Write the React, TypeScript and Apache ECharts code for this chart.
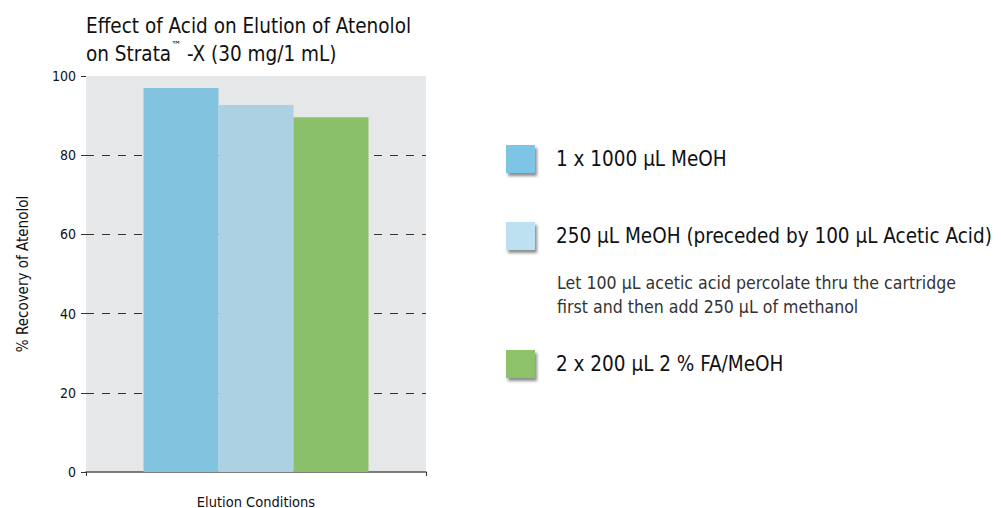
import React, { useEffect, useRef } from "react";
import * as echarts from "echarts";

const titleLine1 = "Effect of Acid on Elution of Atenolol";
const titleLine2 = ["on Strata", "™", " -X (30 mg/1 mL)"];
const categories = [""];
const seriesNames = [
  "1 x 1000 µL MeOH",
  "250 µL MeOH (preceded by 100 µL Acetic Acid)",
  "2 x 200 µL 2 % FA/MeOH",
];
const seriesValues = [97.0, 92.7, 89.6];
const barColors = ["#82C3DF", "#ACD1E2", "#8BC06A"];
const legendColors = ["#7EC4E4", "#BDE1F1", "#8DC26B"];
const legendTops = [145, 222, 350];
const noteLines = [
  "Let 100 µL acetic acid percolate thru the cartridge",
  "first and then add 250 µL of methanol",
];
const yTicks = { min: 0, max: 100, interval: 20 };
const yAxisName = "% Recovery of Atenolol";
const xAxisName = "Elution Conditions";

const FONT = "'DejaVu Sans Condensed', 'Liberation Sans', sans-serif";

export default function App() {
  const ref = useRef<HTMLDivElement>(null);
  useEffect(() => {
    document.body.style.margin = "0";
    const chart = echarts.init(ref.current!, null, { renderer: "svg" });
    const option: any = {
      animation: false,
      textStyle: { fontFamily: FONT },
      title: {
        left: 81,
        top: 7,
        text: `${titleLine1}\n{a|${titleLine2[0]}}{s|${titleLine2[1]}}{a|${titleLine2[2]}}`,
        textStyle: {
          fontFamily: FONT,
          fontSize: 20.5,
          fontWeight: "normal",
          color: "#111",
          lineHeight: 28,
          rich: {
            a: { fontFamily: FONT, fontSize: 20.5, color: "#111", lineHeight: 28 },
            s: { fontFamily: FONT, fontSize: 11, color: "#111", verticalAlign: "top", lineHeight: 28, padding: [0, 0, 12, 0] },
          },
        },
      },
      legend: seriesNames.map((n, i) => ({
        data: [{ name: n, itemStyle: { color: legendColors[i] } }],
        left: 506,
        top: legendTops[i],
        padding: 0,
        orient: "vertical",
        icon: "rect",
        itemWidth: 29,
        itemHeight: 28,
        selectedMode: false,
        itemStyle: {
          shadowBlur: 3,
          shadowColor: "rgba(0,0,0,0.45)",
          shadowOffsetX: 2,
          shadowOffsetY: 3,
        },
        textStyle: {
          fontFamily: FONT,
          fontSize: 20.5,
          color: "#111",
          padding: [3, 0, 0, 16],
        },
      })),
      graphic: noteLines.map((t, i) => ({
        type: "text",
        left: 557,
        top: 274 + i * 24,
        style: { text: t, fontFamily: FONT, fontSize: 17.6, fill: "#333" },
      })),
      grid: {
        left: 86,
        top: 76,
        width: 340,
        height: 396,
        show: true,
        backgroundColor: "#E6E7E9",
        borderWidth: 0,
        outerBoundsMode: "none",
        containLabel: false,
      },
      xAxis: {
        type: "category",
        data: categories,
        name: xAxisName,
        nameLocation: "middle",
        nameGap: 22,
        nameTextStyle: { fontFamily: FONT, fontSize: 14.5, color: "#111" },
        axisLine: { lineStyle: { color: "#555", width: 1.5 } },
        axisTick: { show: true, length: 4, lineStyle: { color: "#333" } },
        axisLabel: { show: false },
      },
      yAxis: {
        type: "value",
        min: yTicks.min,
        max: yTicks.max,
        interval: yTicks.interval,
        name: yAxisName,
        nameLocation: "middle",
        nameGap: 56,
        nameTextStyle: { fontFamily: FONT, fontSize: 15, color: "#111" },
        axisLine: { show: false },
        axisTick: { show: true, length: 5, lineStyle: { color: "#333" } },
        axisLabel: { margin: 10, fontFamily: FONT, fontSize: 14, color: "#111" },
        splitLine: {
          show: true,
          showMaxLine: false,
          showMinLine: false,
          lineStyle: { color: "#333", type: [8, 8], width: 1 },
        },
      },
      series: seriesNames.map((n, i) => ({
        name: n,
        type: "bar",
        data: [seriesValues[i]],
        barWidth: 75,
        barGap: "0%",
        itemStyle: { color: barColors[i] },
      })),
    };
    chart.setOption(option);
    return () => chart.dispose();
  }, []);
  return <div ref={ref} style={{ width: 1001, height: 508 }} />;
}
